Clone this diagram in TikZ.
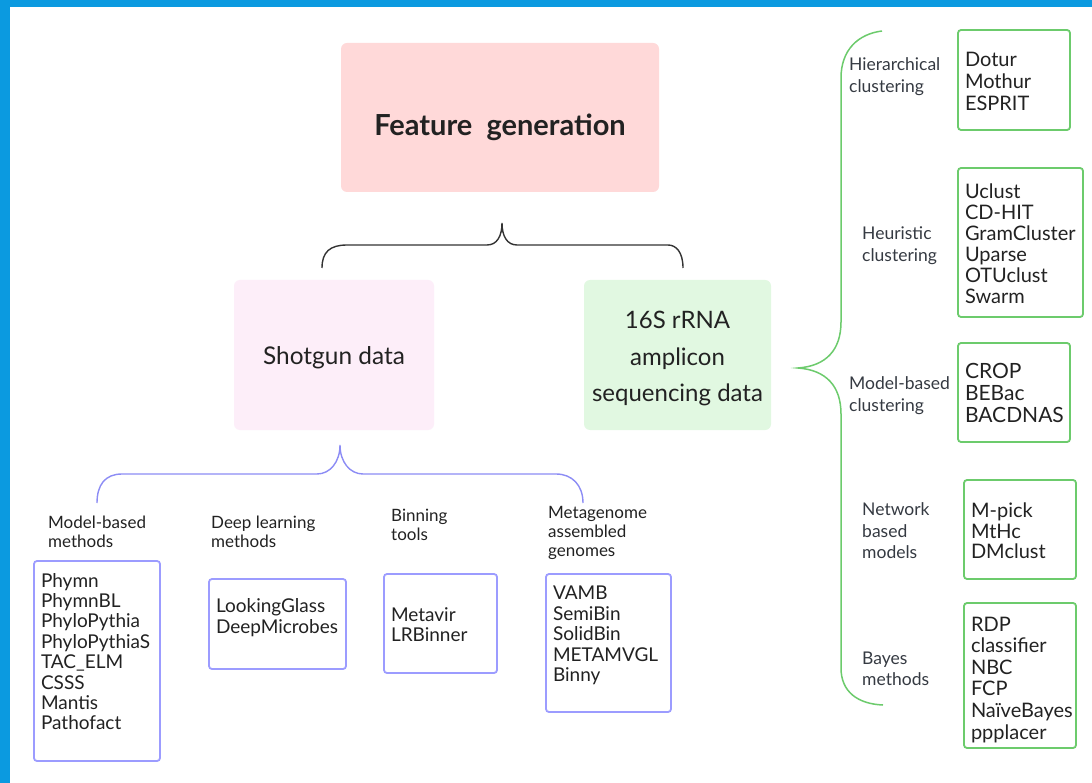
\documentclass[tikz,border=0pt]{standalone}
\usepackage{fontspec}
\setmainfont{Lato}
\definecolor{frameblue}{HTML}{0B9AE0}
\definecolor{featpink}{HTML}{FFD9D9}
\definecolor{shotpink}{HTML}{FDEEF9}
\definecolor{rnagreen}{HTML}{E1F8E1}
\definecolor{boxblue}{HTML}{9C9CFF}
\definecolor{braceblue}{HTML}{8C8CF5}
\definecolor{boxgreen}{HTML}{6CCB6C}
\definecolor{inktext}{HTML}{222222}
\definecolor{labeltext}{HTML}{353A42}
\definecolor{bracegray}{HTML}{333333}
\newcommand\itemlist[6]{\parbox[t][#2pt][t]{#1pt}{\fontsize{#4pt}{#5pt}\selectfont\hyphenpenalty=10000\exhyphenpenalty=10000\vspace*{#3pt}\leftskip=7pt\relax #6\par}}
\tikzset{
  x=1pt, y=-1pt,
  bigbox/.style={draw=none, rounded corners=6pt, inner sep=0pt, text=inktext},
  bluebox/.style={draw=boxblue, line width=1.8pt, rounded corners=3pt, inner sep=0pt, outer sep=0pt, anchor=north west, text=inktext},
  greenbox/.style={draw=boxgreen, line width=1.8pt, rounded corners=3pt, inner sep=0pt, outer sep=0pt, anchor=north west, text=inktext},
  lbl/.style={inner sep=0pt, anchor=north west, align=left, text=inktext, font=\fontsize{17}{19}\selectfont},
  rlbl/.style={inner sep=0pt, anchor=north west, align=left, text=labeltext, font=\fontsize{17.5}{21.5}\selectfont},
  blackbrace/.style={draw=bracegray, line width=1.4pt},
  bluebrace/.style={draw=braceblue, line width=1.4pt},
  greenbrace/.style={draw=boxgreen, line width=1.5pt}
}
\begin{document}
\begin{tikzpicture}
\useasboundingbox (0,0) rectangle (1092,783);
\fill[white] (0,0) rectangle (1092,783);
\fill[frameblue] (0,0) rectangle (1092,7);
\fill[frameblue] (0,0) rectangle (10,783);

% main boxes
\node[bigbox, fill=featpink, minimum width=318pt, minimum height=149pt,
      font=\bfseries\fontsize{29}{35}\selectfont, text height=35.6pt, text depth=0pt]
  (feat) at (500,117.5) {Feature\ \ generation};
\node[bigbox, fill=shotpink, minimum width=200pt, minimum height=150pt,
      font=\fontsize{24.4}{36.5}\selectfont, text height=19.5pt, text depth=0pt]
  (shot) at (334,355) {Shotgun data};
\node[bigbox, fill=rnagreen, minimum width=187pt, minimum height=150pt,
      font=\fontsize{24}{36.5}\selectfont]
  (rna) at (677.5,355) {\parbox{187pt}{\centering\vspace*{7.5pt}16S rRNA\\amplicon\\sequencing data\par}};

% black brace
\coordinate (kL) at (322,268);
\coordinate (kR) at (683,268);
\coordinate (kT) at (502,223);
\draw[blackbrace] (kL) .. controls (322,252) and (330,245) .. (347,245) -- (487,245)
  .. controls (497,245) and (502,236) .. (kT)
  .. controls (502,236) and (507,245) .. (517,245) -- (668,245)
  .. controls (676,245) and (683,252) .. (kR);

% blue brace
\coordinate (sL) at (97,503);
\coordinate (sR) at (583,503);
\coordinate (sT) at (340,445);
\draw[bluebrace] (sL) .. controls (97,485) and (105,474) .. (122,474) -- (317,474)
  .. controls (330,474) and (340,462) .. (sT)
  .. controls (340,462) and (350,474) .. (363,474) -- (556,474)
  .. controls (572,474) and (583,485) .. (sR);

% green brace
\coordinate (gT) at (882,31);
\coordinate (gM) at (798,368);
\coordinate (gB) at (883,705);
\draw[greenbrace] (gT) .. controls (858,34) and (841,50) .. (841,78) -- (841,322)
  .. controls (841,350) and (826,366) .. (gM)
  .. controls (826,370) and (841,386) .. (841,414) -- (841,668)
  .. controls (841,692) and (858,704) .. (gB);

% shotgun categories
\node[lbl] (lmb) at (48,516) {Model-based\\methods};
\node[lbl] (ldl) at (211,516) {Deep learning\\methods};
\node[lbl] (lbt) at (391,509) {Binning\\tools};
\node[lbl] (lmg) at (548,506) {Metagenome\\assembled\\genomes};

\node[bluebox] (bmb) at (34,561) {\itemlist{126}{200}{12.2}{19}{20.4}{Phymn\\PhymnBL\\PhyloPythia\\PhyloPythiaS\\TAC\_ELM\\CSSS\\Mantis\\Pathofact}};
\node[bluebox] (bdl) at (209,579) {\itemlist{137}{90}{19.2}{19}{21}{LookingGlass\\DeepMicrobes}};
\node[bluebox] (bbt) at (384,574) {\itemlist{113}{99}{33.2}{19}{20}{Metavir\\LRBinner}};
\node[bluebox] (bmg) at (546,574) {\itemlist{125}{138}{12.2}{19}{20.5}{VAMB\\SemiBin\\SolidBin\\METAMVGL\\Binny}};

% 16S categories
\node[rlbl] (lhc) at (849,57.7) {Hierarchical\\clustering};
\node[rlbl] (lhe) at (862,226.7) {Heuristic\\clustering};
\node[rlbl] (lmc) at (849,376.7) {Model-based\\clustering};
\node[rlbl] (lnb) at (862,502.7) {Network\\based\\models};
\node[rlbl] (lbm) at (862,651.7) {Bayes\\methods};

\node[greenbox] (ghc) at (958,30) {\itemlist{112}{100}{21.8}{20}{22}{Dotur\\Mothur\\ESPRIT}};
\node[greenbox] (ghe) at (958,168) {\itemlist{125}{149}{15.8}{20}{21}{Uclust\\CD-HIT\\GramCluster\\Uparse\\OTUclust\\Swarm}};
\node[greenbox] (gmc) at (958,343) {\itemlist{112}{99}{20.4}{21}{22}{CROP\\BEBac\\BACDNAS}};
\node[greenbox] (gnb) at (964,480) {\itemlist{112}{99}{22.8}{20}{20.5}{M-pick\\MtHc\\DMclust}};
\node[greenbox] (gbm) at (964,603) {\itemlist{112}{145}{13.8}{20}{21.6}{RDP\\classifier\\NBC\\FCP\\NaïveBayes\\ppplacer}};
\end{tikzpicture}
\end{document}
